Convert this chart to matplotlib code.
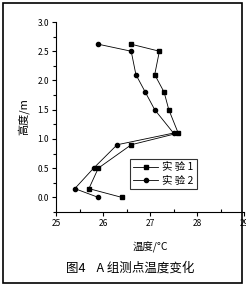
import matplotlib
matplotlib.use('Agg')
import matplotlib.pyplot as plt
from matplotlib.patches import Rectangle
from matplotlib.ticker import MultipleLocator

plt.rcParams['font.family'] = ['Noto Sans CJK SC', 'DejaVu Sans']

# Dados
altura = [2.62, 2.5, 2.1, 1.8, 1.5, 1.1, 0.9, 0.5, 0.15, 0.0]
temp1 = [26.6, 27.2, 27.1, 27.3, 27.4, 27.6, 26.6, 25.9, 25.7, 26.4]
temp2 = [25.9, 26.6, 26.7, 26.9, 27.1, 27.5, 26.3, 25.8, 25.4, 25.9]
rotulos = ['实 验 1', '实 验 2']
xticks = [25, 26, 27, 28, 29]
yticks = [0.0, 0.5, 1.0, 1.5, 2.0, 2.5, 3.0]

fig = plt.figure(figsize=(2.46, 2.87), dpi=100)
W, H = 246, 287
ax = fig.add_axes([56 / W, 1 - 212 / H, 188 / W, 190 / H])

ax.plot(temp1, altura, color='black', marker='s', markersize=3, linewidth=0.6, label=rotulos[0])
ax.plot(temp2, altura, color='black', marker='o', markersize=3, linewidth=0.6, label=rotulos[1])

ax.set_xlim(25, 29)
ax.set_ylim(-0.25, 3.0)
ax.set_xticks(xticks)
ax.set_xticklabels([str(t) for t in xticks])
ax.set_yticks(yticks)
ax.set_yticklabels(['%.1f' % t for t in yticks])
ax.xaxis.set_minor_locator(MultipleLocator(0.5))
ax.yaxis.set_minor_locator(MultipleLocator(0.25))
ax.tick_params(axis='both', which='major', labelsize=6, length=3, width=0.8, pad=2)
ax.tick_params(axis='x', which='minor', direction='in', length=2, width=0.8)
ax.tick_params(axis='y', which='minor', direction='out', length=2, width=0.8)

for s in ['top', 'right']:
    ax.spines[s].set_visible(False)
for s in ['left', 'bottom']:
    ax.spines[s].set_linewidth(0.8)

ax.set_ylabel('高度/m', fontsize=8, labelpad=6)
ax.xaxis.set_label_coords((181 - 56) / 188, -(242 - 212) / 190)
ax.set_xlabel('温度/°C', fontsize=7.5)

leg = ax.legend(loc='upper left', bbox_to_anchor=((130 - 56) / 188, 1 - (159 - 22) / 190),
                fontsize=7.5, frameon=True, fancybox=False, edgecolor='black',
                handlelength=2.4, borderpad=0.3, labelspacing=0.35, handletextpad=0.4,
                borderaxespad=0)
leg.get_frame().set_linewidth(0.8)

fig.text(130 / W, 1 - 268 / H, '图4    A 组测点温度变化', fontsize=9, ha='center', va='center')

# moldura
fig.patches.append(Rectangle((3 / W, 1 - 283 / H), 239 / W, 280 / H, transform=fig.transFigure,
                             fill=False, edgecolor='black', linewidth=1.2))

plt.savefig('out.png', dpi=100)
